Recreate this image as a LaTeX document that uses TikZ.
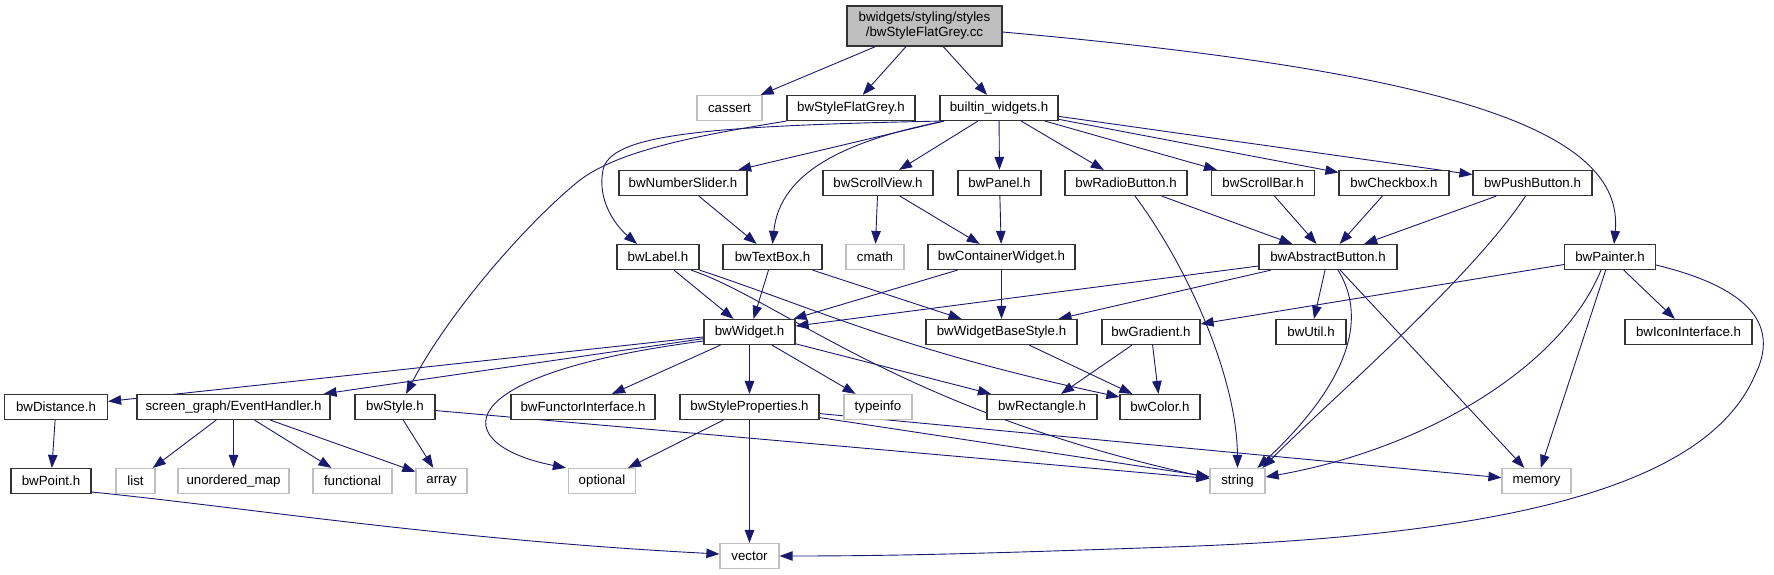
\documentclass[tikz,border=0pt]{standalone}
\usepackage{fontspec}
\setsansfont{Liberation Sans}
\usetikzlibrary{arrows.meta,backgrounds}
\definecolor{edgeblue}{HTML}{191970}
\definecolor{sysgrey}{HTML}{BFBFBF}

\begin{document}
\begin{tikzpicture}[
  x=1pt, y=-1pt,
  font=\sffamily\fontsize{13.3}{15}\selectfont,
  file/.style={
    draw=black!80,
    line width=1.2pt,
    fill=white,
    inner sep=0pt,
    minimum height=25pt
  },
  sys/.style={file, draw=sysgrey},
  head/.style={file, fill=sysgrey, minimum height=40pt, align=center},
  arrow/.style={-{Triangle[length=13pt,width=9.5pt]}, line width=0.9pt, draw=edgeblue}
]
\useasboundingbox (0,0) rectangle (1774,575);

\node[head, minimum width=155pt] (main) at (924.5,26) {bwidgets/styling/styles\\/bwStyleFlatGrey.cc};

\node[sys, minimum width=65pt] (cassert) at (729.5,108) {cassert};
\node[file, minimum width=128pt] (styleFlatGrey) at (851,108) {bwStyleFlatGrey.h};
\node[file, minimum width=118pt] (builtin) at (999,108) {builtin\_widgets.h};

\node[file, minimum width=128pt] (numberSlider) at (683,183) {bwNumberSlider.h};
\node[file, minimum width=110pt] (scrollView) at (878,183) {bwScrollView.h};
\node[file, minimum width=83pt] (panel) at (999.5,183) {bwPanel.h};
\node[file, minimum width=122pt] (radioButton) at (1126,183) {bwRadioButton.h};
\node[file, minimum width=103pt] (scrollBar) at (1263,183) {bwScrollBar.h};
\node[file, minimum width=110pt] (checkbox) at (1394,183) {bwCheckbox.h};
\node[file, minimum width=119pt] (pushButton) at (1532.5,183) {bwPushButton.h};

\node[file, minimum width=82pt] (label) at (658,257) {bwLabel.h};
\node[file, minimum width=99pt] (textBox) at (772.5,257) {bwTextBox.h};
\node[sys, minimum width=58pt] (cmath) at (875,257) {cmath};
\node[file, minimum width=147pt] (containerWidget) at (1001.5,257) {bwContainerWidget.h};
\node[file, minimum width=138pt] (abstractButton) at (1328,257) {bwAbstractButton.h};
\node[file, minimum width=91pt] (painter) at (1610,257) {bwPainter.h};

\node[file, minimum width=91pt] (widget) at (749.5,332) {bwWidget.h};
\node[file, minimum width=151pt] (widgetBaseStyle) at (1001.5,332) {bwWidgetBaseStyle.h};
\node[file, minimum width=98pt] (gradient) at (1151,332) {bwGradient.h};
\node[file, minimum width=70pt] (util) at (1311,332) {bwUtil.h};
\node[file, minimum width=127pt] (iconInterface) at (1688.5,332) {bwIconInterface.h};

\node[file, minimum width=103pt] (distance) at (56,407) {bwDistance.h};
\node[file, minimum width=193pt] (eventHandler) at (233.5,407) {screen\_graph/EventHandler.h};
\node[file, minimum width=80pt] (style) at (395,407) {bwStyle.h};
\node[file, minimum width=144pt] (functorInterface) at (583,407) {bwFunctorInterface.h};
\node[file, minimum width=139pt] (styleProperties) at (749.5,407) {bwStyleProperties.h};
\node[sys, minimum width=68pt] (typeinfo) at (878,407) {typeinfo};
\node[file, minimum width=110pt] (rectangle) at (1042,407) {bwRectangle.h};
\node[file, minimum width=80pt] (color) at (1160,407) {bwColor.h};

\node[file, minimum width=80pt] (point) at (51,481) {bwPoint.h};
\node[sys, minimum width=39pt] (list) at (135.5,481) {list};
\node[sys, minimum width=111pt] (unorderedMap) at (233.5,481) {unordered\_map};
\node[sys, minimum width=79pt] (functional) at (352.5,481) {functional};
\node[sys, minimum width=51pt] (array) at (441.5,481) {array};
\node[sys, minimum width=67pt] (optional) at (602,481) {optional};
\node[sys, minimum width=55pt] (string) at (1237.5,481) {string};
\node[sys, minimum width=69pt] (memory) at (1536.5,481) {memory};

\node[sys, minimum width=59pt] (vector) at (749.5,556) {vector};

\begin{scope}[on background layer]
  \draw[arrow] (main) -- (cassert);
  \draw[arrow] (main) -- (styleFlatGrey);
  \draw[arrow] (main) -- (builtin);
  \draw[arrow] ([yshift=-6pt]main.east) .. controls (1450,72) and (1625,130) .. ([xshift=4pt]painter.north);

  \draw[arrow] (styleFlatGrey.south west) .. controls (700,135) and (620,150) .. (580,180)
    .. controls (530,220) and (450,310) .. ([xshift=11pt]style.north);

  \draw[arrow] (builtin.south west) .. controls (700,126) and (610,135) .. (603,170)
    .. controls (597,200) and (615,225) .. ([xshift=-21pt]label.north);
  \draw[arrow] (builtin) -- (numberSlider);
  \draw[arrow] ([xshift=-55pt]builtin.south) .. controls (850,140) and (780,170) .. (textBox.north);
  \draw[arrow] (builtin) -- (scrollView);
  \draw[arrow] (builtin) -- (panel);
  \draw[arrow] (builtin) -- (radioButton);
  \draw[arrow] (builtin) -- (scrollBar);
  \draw[arrow] (builtin) -- (checkbox);
  \draw[arrow] (builtin) -- (pushButton);

  \draw[arrow] (numberSlider) -- (textBox);
  \draw[arrow] (scrollView) -- (cmath);
  \draw[arrow] (scrollView) -- (containerWidget);
  \draw[arrow] (panel) -- (containerWidget);
  \draw[arrow] (radioButton) -- (abstractButton);
  \draw[arrow] ([xshift=9pt]radioButton.south) .. controls (1190,270) and (1237,380) .. (string.north);
  \draw[arrow] (scrollBar) -- (abstractButton);
  \draw[arrow] (checkbox) -- (abstractButton);
  \draw[arrow] (pushButton) -- (abstractButton);
  \draw[arrow] ([xshift=-7pt]pushButton.south) .. controls (1470,280) and (1330,400) .. ([xshift=25pt]string.north);

  \draw[arrow] (label) -- (widget);
  \draw[arrow] ([xshift=33pt]label.south) .. controls (780,300) and (900,410) .. ([yshift=3pt]string.west);
  \draw[arrow] (label.south east) .. controls (820,310) and (900,350) .. ([yshift=10pt]color.west);
  \draw[arrow] (textBox) -- (widget);
  \draw[arrow] (textBox) -- (widgetBaseStyle);
  \draw[arrow] (containerWidget) -- (widget);
  \draw[arrow] (containerWidget) -- (widgetBaseStyle);
  \draw[arrow] (abstractButton) -- (widget);
  \draw[arrow] (abstractButton) -- (widgetBaseStyle);
  \draw[arrow] (abstractButton) -- (util);
  \draw[arrow] ([xshift=10pt]abstractButton.south) .. controls (1375,330) and (1330,400) .. ([xshift=20pt]string.north);
  \draw[arrow] (abstractButton) -- (memory);

  \draw[arrow] (painter) -- (gradient);
  \draw[arrow] (painter) -- (iconInterface);
  \draw[arrow] ([xshift=-9pt]painter.south) .. controls (1560,370) and (1420,450) .. ([yshift=4pt]string.east);
  \draw[arrow] (painter) -- (memory);
  \draw[arrow] ([yshift=-8pt]painter.east) .. controls (1730,283) and (1785,315) .. (1755,375)
    .. controls (1710,480) and (1530,535) .. (1170,547)
    .. controls (1000,553) and (900,556) .. (vector.east);

  \draw[arrow] (widgetBaseStyle) -- (color);
  \draw[arrow] (gradient) -- (rectangle);
  \draw[arrow] (gradient) -- (color);

  \draw[arrow] (widget) -- (distance);
  \draw[arrow] (widget) -- (eventHandler);
  \draw[arrow] ([yshift=-9pt]widget.west) .. controls (440,375) and (450,445) .. ([xshift=-2pt]optional.north west);
  \draw[arrow] (widget) -- (functorInterface);
  \draw[arrow] (widget) -- (styleProperties);
  \draw[arrow] (widget) -- (typeinfo);
  \draw[arrow] (widget) -- (rectangle);

  \draw[arrow] (distance) -- (point);
  \draw[arrow] (eventHandler) -- (list);
  \draw[arrow] (eventHandler) -- (unorderedMap);
  \draw[arrow] (eventHandler) -- (functional);
  \draw[arrow] (eventHandler) -- (array);
  \draw[arrow] (style) -- (array);
  \draw[arrow] (style) -- (string);
  \draw[arrow] (styleProperties) -- (optional);
  \draw[arrow] (styleProperties) -- (vector);
  \draw[arrow] (styleProperties) -- (string);
  \draw[arrow] (styleProperties) -- (memory);
  \draw[arrow] ([yshift=-11pt]point.east) .. controls (250,508) and (450,540) .. ([yshift=2pt]vector.west);
\end{scope}

\end{tikzpicture}
\end{document}
